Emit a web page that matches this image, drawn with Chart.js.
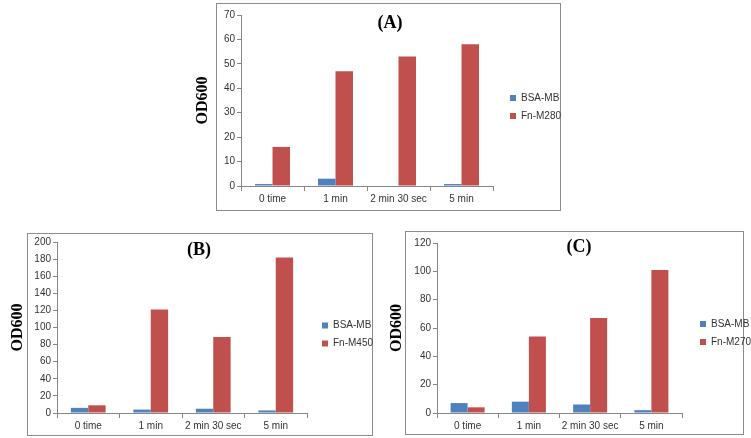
<!DOCTYPE html>
<html>
<head>
<meta charset="utf-8">
<script src="https://cdn.jsdelivr.net/npm/chart.js@4.4.1/dist/chart.umd.min.js"></script>
<style>
    body { margin: 0; background: #fff; overflow: hidden; width: 751px; height: 438px; position: relative; }
    .box { position: absolute; border: 1px solid #8c8c8c; box-sizing: border-box; }
    canvas { position: absolute; }
</style>
</head>
<body>
<div class="box" style="left:216px;top:3px;width:345px;height:208px;"></div>
<div class="box" style="left:27px;top:233px;width:346px;height:203px;"></div>
<div class="box" style="left:405px;top:231px;width:339px;height:204px;"></div>

<canvas id="chartA" width="376" height="208" style="left:190px;top:3px;"></canvas>
<canvas id="chartB" width="373" height="203" style="left:5px;top:233px;"></canvas>
<canvas id="chartC" width="372" height="204" style="left:384px;top:231px;"></canvas>

<script>
// data
const categories = ['0 time', '1 min', '2 min 30 sec', '5 min'];

const bsaA = [0.8, 3, 0, 0.8];
const fnA = [16, 47, 53, 58];
const bsaB = [6, 4, 5, 3];
const fnB = [9, 121, 89, 182];
const bsaC = [7, 8, 6, 2];
const fnC = [4, 54, 67, 101];

const seriesA = ['BSA-MB', 'Fn-M280'];
const seriesB = ['BSA-MB', 'Fn-M450'];
const seriesC = ['BSA-MB', 'Fn-M270'];

const titles = ['(A)', '(B)', '(C)'];
const yMax = [70, 200, 120];
const yStep = [10, 20, 20];

const blue = '#4F81BD';
const red = '#C0504D';
const axisGray = '#868686';
const textColor = '#333';

// draws the (A)/(B)/(C) label inside the plot
const panelTitle = {
    id: 'panelTitle',
    afterDraw: (chart, args, opts) => {
        const { ctx } = chart;
        ctx.save();
        ctx.font = 'bold 18px "Liberation Serif", "Times New Roman", serif';
        ctx.fillStyle = '#000';
        ctx.textAlign = 'center';
        ctx.textBaseline = 'middle';
        ctx.fillText(opts.text, opts.x, opts.y);
        ctx.restore();
    }
};

function makePanel(id, title, names, bsa, fn, max, step, lay) {
    const el = document.getElementById(id);
    return new Chart(el, {
        type: 'bar',
        data: {
            labels: categories,
            datasets: [
                { label: names[0], data: bsa, backgroundColor: blue, borderWidth: 0 },
                { label: names[1], data: fn, backgroundColor: red, borderWidth: 0 }
            ]
        },
        options: {
            responsive: false,
            animation: false,
            devicePixelRatio: 1,
            categoryPercentage: 0.556,
            barPercentage: 1,
            layout: { padding: 0 },
            scales: {
                x: {
                    grid: { drawOnChartArea: false, tickLength: 5, color: axisGray },
                    border: { color: axisGray },
                    ticks: {
                        color: textColor,
                        padding: 2,
                        maxRotation: 0,
                        minRotation: 0,
                        autoSkip: false,
                        font: { family: 'Liberation Sans', size: 10 }
                    },
                    afterFit: s => { s.height = lay.xh; }
                },
                y: {
                    min: 0,
                    max: max,
                    grid: { drawOnChartArea: false, tickLength: 4, color: axisGray },
                    border: { color: axisGray },
                    // line height sets the space kept above the top tick
                    ticks: {
                        stepSize: step,
                        color: textColor,
                        padding: 2,
                        font: { family: 'Liberation Sans', size: 10, lineHeight: lay.top * 2 + 'px' }
                    },
                    title: {
                        display: true,
                        text: 'OD600',
                        color: '#000',
                        padding: { top: 3, bottom: 0 },
                        font: { family: 'Liberation Serif', size: 16, weight: 'bold' }
                    },
                    afterFit: s => { s.width = lay.yw; }
                },
                // empty spacer between plot and legend
                gap: {
                    type: 'linear',
                    position: 'right',
                    display: true,
                    grid: { display: false },
                    border: { display: false },
                    ticks: { display: false },
                    afterFit: s => { s.width = lay.gap; }
                }
            },
            plugins: {
                legend: {
                    position: 'right',
                    maxWidth: 64,
                    labels: {
                        boxWidth: 6,
                        boxHeight: 6,
                        padding: 8,
                        color: textColor,
                        font: { family: 'Liberation Sans', size: 10 }
                    }
                },
                tooltip: { enabled: false },
                panelTitle: { text: title, x: lay.tx, y: lay.ty }
            }
        },
        plugins: [panelTitle]
    });
}

makePanel('chartA', titles[0], seriesA, bsaA, fnA, yMax[0], yStep[0],
    { top: 10, xh: 25, yw: 51, gap: 9, tx: 200, ty: 20 });
makePanel('chartB', titles[1], seriesB, bsaB, fnB, yMax[1], yStep[1],
    { top: 7, xh: 23, yw: 52, gap: 7, tx: 194, ty: 17 });
makePanel('chartC', titles[2], seriesC, bsaC, fnC, yMax[2], yStep[2],
    { top: 10, xh: 22, yw: 53, gap: 10, tx: 195, ty: 16 });
</script>
</body>
</html>
